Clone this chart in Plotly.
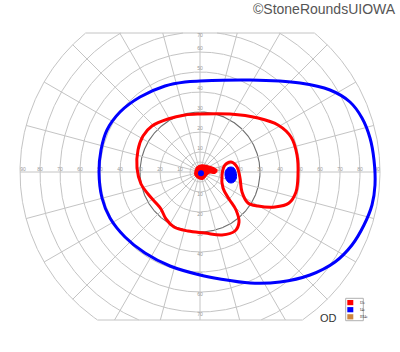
import numpy as np
import plotly.graph_objects as go

# ---------------- data (degrees: x = horizontal, y = vertical) ----------------
# I4e isopter (blue)
blue_x = [0, 25, 50, 65, 75, 81, 85, 87, 87.5, 86, 82, 76, 67.5, 55, 40, 25, 10, 0,
          -15, -27.5, -37.5, -45, -49, -50.5, -49.5, -46.5, -40, -30, -17.5, -7.5, 0]
blue_y = [45.5, 46, 44.5, 41, 35, 27, 17, 6, -6.5, -16.5, -26.5, -36.5, -45, -51.5, -55, -55.5, -53.5, -51.5,
          -47, -40.5, -32.5, -23, -13, 0, 11, 21, 30, 37.5, 43, 45, 45.5]

# I2e isopter (red)
red_x = [0, 15, 29, 39, 45.5, 48.5, 49, 48, 44.5, 37.5, 29, 24, 21, 20, 18.5, 15.5, 12.5, 11, 11.5,
         14.5, 18, 19.5, 17.5, 11, 2.5, -6, -13, -17, -19.5, -22, -26, -29.5, -31.5, -31, -28.5,
         -24, -16, -7.5, 0]
red_y = [29, 29, 27, 23.5, 17.5, 8.5, -1.5, -10, -15.5, -17.5, -17, -15.5, -10, -3, 2.5, 5, 3.5, -1.5, -8,
         -13.5, -19, -25, -29.5, -31.5, -30.5, -29.5, -27.5, -23.5, -18.5, -15.5, -11, -6, 2, 11, 18,
         23, 26.5, 28.5, 29]

# I2e central island (red, filled)
redc_x = [-2.5, -1.5, 1, 4, 7, 8.5, 7.5, 4.5, 3, 1.5, -1, -2.5, -2.5]
redc_y = [0, 2.5, 3.5, 3, 2, 1, -0.5, -0.5, -2, -3.5, -3, -1.5, 0]

# I4e blind spot (blue, filled)
blind_x = [15.5, 17, 18, 18.2, 17, 15.5, 14, 12.8, 12.6, 13.8, 15.5]
blind_y = [2.5, 2, 0, -3, -5, -5.5, -5, -3, 0, 2, 2.5]

# fixation point (blue)
fix_x = [0.5]
fix_y = [-0.6]

circle_radii = [5, 10, 20, 30, 40, 50, 60, 70, 80, 90]
meridian_deg = list(range(0, 360, 15))
h_labels = [10, 20, 30, 40, 50, 60, 70, 80, 90]
v_labels = [10, 20, 30, 40, 50, 60, 70]
legend_names = ["I2e", "I4e", "III4e"]
legend_colors = ["#ff0000", "#0000ff", "#cd853f"]

Y_TOP = 69.5
Y_BOT = -74.0
R_MAX = 90

GRID = "#c4c4c4"
fig = go.Figure()

# ---------------- grid ----------------
th = np.linspace(0, 2 * np.pi, 1441)
for r in circle_radii:
    cx = r * np.cos(th)
    cy = r * np.sin(th)
    mask = (cy > Y_TOP) | (cy < Y_BOT)
    cx = np.where(mask, np.nan, cx)
    cy = np.where(mask, np.nan, cy)
    col = "#6e6e6e" if r == 30 else GRID
    fig.add_trace(go.Scatter(x=cx, y=cy, mode="lines", line=dict(color=col, width=1.1 if r == 30 else 1),
                             hoverinfo="skip", showlegend=False))

mx, my = [], []
for a in meridian_deg:
    t = np.deg2rad(a)
    s, c = np.sin(t), np.cos(t)
    tmax = R_MAX
    if s > 1e-9:
        tmax = min(tmax, Y_TOP / s)
    if s < -1e-9:
        tmax = min(tmax, Y_BOT / s)
    mx += [0, tmax * c, None]
    my += [0, tmax * s, None]
fig.add_trace(go.Scatter(x=mx, y=my, mode="lines", line=dict(color=GRID, width=1),
                         hoverinfo="skip", showlegend=False))

xt = np.sqrt(R_MAX ** 2 - Y_TOP ** 2)
xb = np.sqrt(R_MAX ** 2 - Y_BOT ** 2)
fig.add_trace(go.Scatter(x=[-xt, xt, None, -xb, xb], y=[Y_TOP, Y_TOP, None, Y_BOT, Y_BOT], mode="lines",
                         line=dict(color=GRID, width=1), hoverinfo="skip", showlegend=False))

# ---------------- scale labels ----------------
lx, ly, lt = [], [], []
for v in h_labels:
    p = 88.5 if v == 90 else v
    lx += [-p, p]
    ly += [1.2, 1.2]
    lt += [str(v), str(v)]
for v in v_labels:
    lx += [0, 0]
    ly += [(68.2 if v == 70 else v + 1.6), -v - 1.6]
    lt += [str(v), str(v)]
fig.add_trace(go.Scatter(x=lx, y=ly, text=lt, mode="text",
                         textfont=dict(size=5, color="#9a9a9a", family="Liberation Sans"),
                         hoverinfo="skip", showlegend=False))

# ---------------- isopters ----------------
fig.add_trace(go.Scatter(x=blue_x, y=blue_y, mode="lines",
                         line=dict(color="#0000ff", width=3, shape="spline", smoothing=1.0),
                         hoverinfo="skip", showlegend=False))
fig.add_trace(go.Scatter(x=red_x, y=red_y, mode="lines",
                         line=dict(color="#ff0000", width=3, shape="spline", smoothing=1.0),
                         hoverinfo="skip", showlegend=False))
fig.add_trace(go.Scatter(x=redc_x, y=redc_y, mode="lines", fill="toself", fillcolor="#ff0000",
                         line=dict(color="#ff0000", width=1.5, shape="spline", smoothing=1.0),
                         hoverinfo="skip", showlegend=False))
fig.add_trace(go.Scatter(x=blind_x, y=blind_y, mode="lines", fill="toself", fillcolor="#0000ff",
                         line=dict(color="#0000ff", width=1, shape="spline", smoothing=1.0),
                         hoverinfo="skip", showlegend=False))
fig.add_trace(go.Scatter(x=fix_x, y=fix_y, mode="markers",
                         marker=dict(color="#0000ff", size=6),
                         hoverinfo="skip", showlegend=False))

# ---------------- legend (custom box) ----------------
W, H = 400.0, 352.0
def px(x):
    return x / W
def py(y):
    return 1 - y / H

shapes = [dict(type="rect", xref="paper", yref="paper", x0=px(345.7), x1=px(363.3), y0=py(320.7), y1=py(298.3),
               line=dict(color="#b0b0b0", width=1), fillcolor="white", layer="above")]
annotations = []
for i, (nm, col) in enumerate(zip(legend_names, legend_colors)):
    top = 300 + i * 7.1
    shapes.append(dict(type="rect", xref="paper", yref="paper", x0=px(347.3), x1=px(353.3),
                       y0=py(top + 5.2), y1=py(top), line=dict(width=0), fillcolor=col, layer="above"))
    annotations.append(dict(xref="paper", yref="paper", x=px(357.5), y=py(top + 2.6), text=nm,
                            showarrow=False, xanchor="left", yanchor="middle",
                            font=dict(size=4, color="#333333", family="Liberation Serif")))

annotations.append(dict(xref="paper", yref="paper", x=px(398), y=py(9), text="©StoneRoundsUIOWA",
                        showarrow=False, xanchor="right", yanchor="middle",
                        font=dict(size=14, color="#555555", family="Liberation Sans")))
annotations.append(dict(xref="paper", yref="paper", x=px(328), y=py(318), text="OD",
                        showarrow=False, xanchor="center", yanchor="middle",
                        font=dict(size=11, color="#333333", family="Liberation Sans")))

fig.update_layout(
    width=400, height=352,
    margin=dict(l=0, r=0, t=0, b=0),
    paper_bgcolor="white", plot_bgcolor="white",
    xaxis=dict(range=[-100, 100], visible=False, fixedrange=True),
    yaxis=dict(range=[-90, 86], visible=False, fixedrange=True),
    shapes=shapes, annotations=annotations,
    showlegend=False,
)

fig.write_html("out.html")
